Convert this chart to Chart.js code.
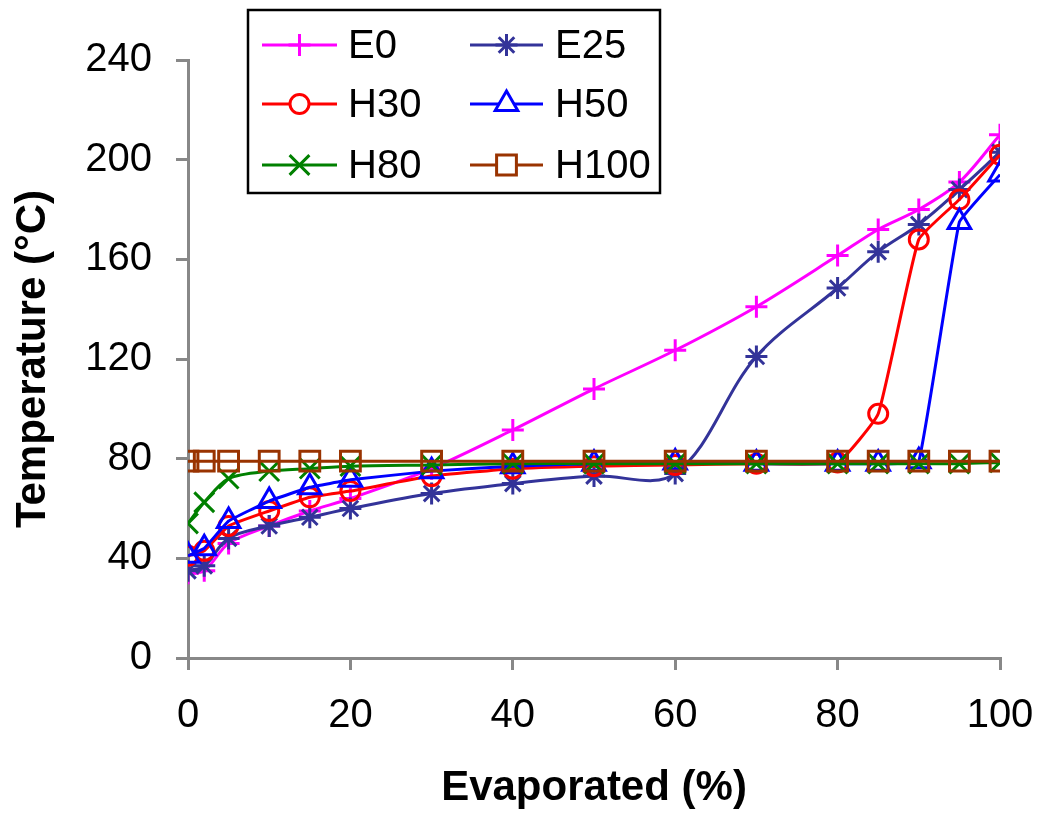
<!DOCTYPE html>
<html lang="en">
<head>
  <meta charset="UTF-8">
  <title>Evaporated vs Temperature</title>
  <script src="https://cdn.jsdelivr.net/npm/chart.js"></script>
  <style>
    html, body { margin: 0; padding: 0; background: #fff; }
    #wrap { width: 1037px; height: 814px; }
  </style>
</head>
<body>
  <div id="wrap"><canvas id="distChart" width="1037" height="814"></canvas></div>

  <script>
    // evaporated fraction (%) - shared by every series
    const evaporated = [0, 2, 5, 10, 15, 20, 30, 40, 50, 60, 70, 80, 85, 90, 95, 100];

    // temperatures (deg C)
    const e0   = [34, 35, 46, 53, 59, 64, 76, 91.5, 108, 123.5, 141, 161.5, 172, 180, 191, 210];
    const e25  = [35, 37, 48, 53, 56.5, 60, 66, 70, 73, 74, 121, 148.5, 163, 174, 188, 203];
    const h30  = [41, 43, 53, 59, 64.5, 67, 73, 76, 77, 77.5, 78, 78.5, 98, 168, 184, 202];
    const h50  = [41, 44, 55, 63, 68.5, 71.5, 75, 77, 78, 78.5, 78, 78, 78, 79, 175, 194];
    const h80  = [54, 62.5, 72, 75, 76, 77, 77.5, 78, 78, 78, 78, 78, 78, 78, 78, 78.5];
    const h100 = [79, 79, 79, 79, 79, 79, 79, 79, 79, 79, 79, 79, 79, 79, 79, 79];

    const yTicks = [0, 40, 80, 120, 160, 200, 240];
    const xTicks = [0, 20, 40, 60, 80, 100];

    const FONT = "'Liberation Sans', Arial, sans-serif";

    function series(label, values, color, style, radius, tension) {
      return {
        label: label,
        data: evaporated.map((x, i) => ({ x: x, y: values[i] })),
        borderColor: color,
        backgroundColor: 'rgba(0,0,0,0)',
        borderWidth: 3,
        pointStyle: style,
        pointRadius: radius,
        pointBorderColor: color,
        pointBackgroundColor: 'rgba(0,0,0,0)',
        pointBorderWidth: 3,
        tension: tension
      };
    }

    const datasets = [
      series('E0', e0, '#FF00FF', 'cross', 11, 0.3),
      series('E25', e25, '#333399', 'star', 11, 0.35),
      series('H30', h30, '#FF0000', 'circle', 9.5, 0.12),
      series('H50', h50, '#0000FF', 'triangle', 13, 0.08),
      series('H80', h80, '#008000', 'crossRot', 14, 0.3),
      series('H100', h100, '#993300', 'rect', 14, 0)
    ];
    // later series end up on top, like the original
    datasets.forEach((d, i) => { d.order = datasets.length - i; });

    // boxed two-column legend with line + marker samples
    const boxLegend = {
      id: 'boxLegend',
      afterDraw(chart) {
        const ctx = chart.ctx;
        ctx.save();
        ctx.fillStyle = '#fff';
        ctx.fillRect(248, 10, 412, 183);
        ctx.strokeStyle = '#000';
        ctx.lineWidth = 2.5;
        ctx.strokeRect(248, 10, 412, 183);

        const rows = [45, 104, 165];
        const cols = [{ l: 262, r: 337, t: 348 }, { l: 470, r: 543, t: 555 }];
        chart.data.datasets.forEach((ds, i) => {
          const c = cols[i % 2];
          const y = rows[Math.floor(i / 2)];
          ctx.strokeStyle = ds.borderColor;
          ctx.lineWidth = 3;
          ctx.beginPath();
          ctx.moveTo(c.l, y);
          ctx.lineTo(c.r, y);
          ctx.stroke();
          ctx.lineWidth = ds.pointBorderWidth;
          ctx.fillStyle = '#fff';
          Chart.helpers.drawPoint(ctx, {
            pointStyle: ds.pointStyle,
            radius: ds.pointRadius,
            rotation: 0,
            borderWidth: ds.pointBorderWidth
          }, (c.l + c.r) / 2, y);
          ctx.fillStyle = '#000';
          ctx.font = '40px ' + FONT;
          ctx.textBaseline = 'middle';
          ctx.textAlign = 'left';
          ctx.fillText(ds.label, c.t, y + 2);
        });
        ctx.restore();
      }
    };

    const ctx = document.getElementById('distChart').getContext('2d');
    const distChart = new Chart(ctx, {
      type: 'line',
      data: { datasets: datasets },
      options: {
        responsive: false,
        animation: false,
        layout: { padding: { top: 60, right: 37, left: 0, bottom: 0 } },
        plugins: {
          legend: { display: false },
          tooltip: { enabled: false }
        },
        scales: {
          x: {
            type: 'linear',
            min: 0,
            max: 100,
            afterFit: s => { s.height = 156; s.paddingLeft = 0; s.paddingRight = 0; },
            afterBuildTicks: s => { s.ticks = xTicks.map(v => ({ value: v })); },
            grid: { drawOnChartArea: false, drawTicks: true, tickLength: 12, color: '#888', lineWidth: 3 },
            border: { color: '#888', width: 3 },
            ticks: { color: '#000', padding: 22, maxRotation: 0, font: { family: FONT, size: 40 } },
            title: {
              display: true,
              text: 'Evaporated (%)',
              color: '#000',
              padding: { top: 0, bottom: 0 },
              font: { family: FONT, size: 42, weight: 'bold' }
            }
          },
          y: {
            min: 0,
            max: 240,
            afterFit: s => { s.width = 188; s.paddingTop = 0; s.paddingBottom = 0; },
            afterBuildTicks: s => { s.ticks = yTicks.map(v => ({ value: v })); },
            grid: { drawOnChartArea: false, drawTicks: true, tickLength: 12, color: '#888', lineWidth: 3 },
            border: { color: '#888', width: 3 },
            ticks: { color: '#000', padding: 24, font: { family: FONT, size: 40 } },
            title: {
              display: true,
              text: 'Temperature (°C)',
              color: '#000',
              padding: { top: 8, bottom: 0 },
              font: { family: FONT, size: 42, weight: 'bold' }
            }
          }
        }
      },
      plugins: [boxLegend]
    });
  </script>
</body>
</html>
